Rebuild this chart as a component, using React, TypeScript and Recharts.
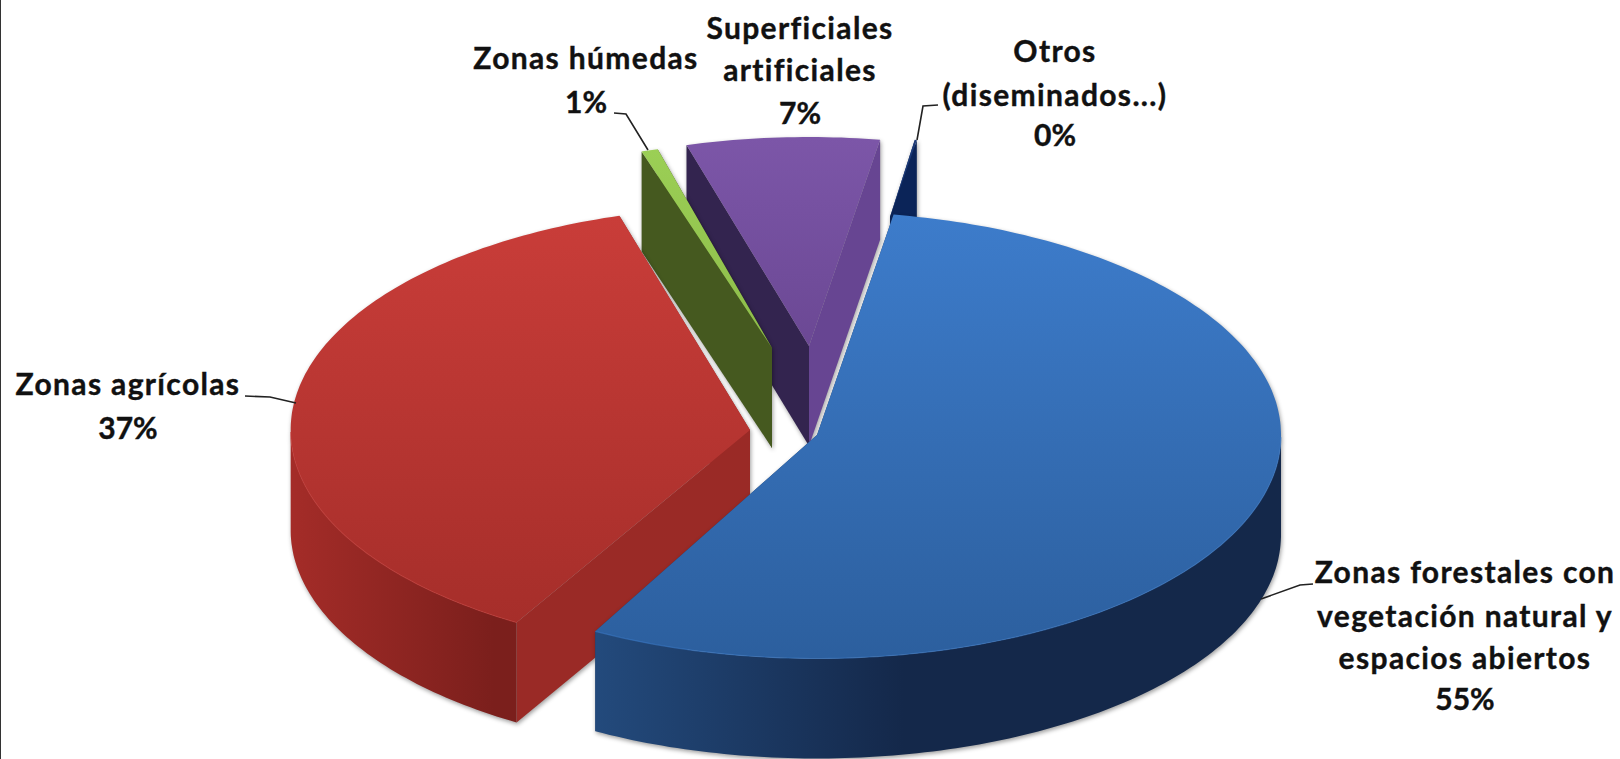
import React from "react";
import { PieChart, Pie } from "recharts";

const categories = ["Otros", "Superficiales", "Húmedas", "Agrícolas", "Forestales"];
const values = [0.2, 7, 0.6, 37, 55.4];
const labelLines = [
  ["Otros", "(diseminados...)"],
  ["Superficiales", "artificiales"],
  ["Zonas húmedas"],
  ["Zonas agrícolas"],
  ["Zonas forestales con", "vegetación natural y", "espacios abiertos"],
];

const data = categories.map((name, i) => ({ name, value: values[i], lines: labelLines[i] }));

const SQUASH = 0.4816;
const DEPTH = 100;

type Look = {
  dx: number; dy: number; rot: number; sx: number; sy: number;
  top: [string, string]; wall: [string, string]; wallStop: number; startWall: string; endWall: string;
  textX: number; textY: number[]; leader: [number, number][];
};
const looks: Record<string, Look> = {
  Otros: { dx: 73, dy: -218, rot: 0, sx: 0.35, sy: 0.35, top: ["#1c3a78", "#1c3a78"], wall: ["#0b2458", "#0b2458"], wallStop: 1, startWall: "#0b2458", endWall: "#0b2458",
    textX: 1055, textY: [50, 94, 134], leader: [[938, 105], [923, 106], [917, 140]] },
  Superficiales: { dx: -8, dy: -89, rot: -0.4, sx: 0.96, sy: 0.935, top: ["#7c56a8", "#6b4894"], wall: ["#33244f", "#33244f"], wallStop: 1, startWall: "#674592", endWall: "#33244f",
    textX: 800, textY: [27, 69, 112], leader: [] },
  "Húmedas": { dx: -45, dy: -87, rot: -1.5, sx: 0.96, sy: 0.92, top: ["#9bcf55", "#8dbb4a"], wall: ["#45591f", "#45591f"], wallStop: 1, startWall: "#45591f", endWall: "#45591f",
    textX: 586, textY: [57, 101], leader: [[614, 113], [626, 114], [648, 150]] },
  "Agrícolas": { dx: -67, dy: -5, rot: -2, sx: 0.99, sy: 1, top: ["#c93d39", "#a62e2a"], wall: ["#a42c28", "#7b1f1c"], wallStop: 0.9, startWall: "#9a2a26", endWall: "#9a2a26",
    textX: 128, textY: [383, 427], leader: [[245, 396], [270, 397], [296, 403]] },
  Forestales: { dx: 0, dy: 0, rot: 0, sx: 1, sy: 1, top: ["#3d7ccb", "#2c5f9e"], wall: ["#234a7c", "#14284a"], wallStop: 0.45, startWall: "#1d3c66", endWall: "#1d3c66",
    textX: 1465, textY: [571, 615, 657, 698], leader: [[1313, 584], [1300, 585], [1261, 599]] },
};

function Slice3D(props: any) {
  const { cx, cy, outerRadius, startAngle, endAngle, name } = props;
  const lk = looks[name];
  const x = cx + lk.dx;
  const y = cy + lk.dy;
  const s = Math.min(startAngle, endAngle) + lk.rot;
  const e = Math.max(startAngle, endAngle) + lk.rot;
  const pt = (deg: number, down = 0): [number, number] => {
    const a = (deg * Math.PI) / 180;
    return [x + outerRadius * lk.sx * Math.cos(a), y - outerRadius * lk.sy * SQUASH * Math.sin(a) + down];
  };
  const line = (pts: [number, number][]) => "M" + pts.map((p) => `${p[0].toFixed(1)},${p[1].toFixed(1)}`).join("L");
  const poly = (pts: [number, number][]) => line(pts) + "Z";
  const arc: number[] = [];
  for (let a = s; a < e; a += 1) arc.push(a);
  arc.push(e);
  const topPts = arc.map((a) => pt(a));
  const front = arc.filter((a) => Math.sin((a * Math.PI) / 180) <= 0.001);
  const hasFront = front.length > 1;
  const id = "g" + categories.indexOf(name);
  const apex: [number, number] = [x, y];
  const apexD: [number, number] = [x, y + DEPTH];
  return (
    <g style={{ filter: "drop-shadow(1px 2px 2px rgba(0,0,0,0.38))" }}>
      <defs>
        <linearGradient id={id + "t"} x1="0" y1="0" x2="0" y2="1">
          <stop offset="0" stopColor={lk.top[0]} />
          <stop offset="1" stopColor={lk.top[1]} />
        </linearGradient>
        <linearGradient id={id + "w"} x1="0" y1="0" x2="1" y2="0">
          <stop offset="0" stopColor={lk.wall[0]} />
          <stop offset={lk.wallStop} stopColor={lk.wall[1]} />
          <stop offset="1" stopColor={lk.wall[1]} />
        </linearGradient>
      </defs>
      <path d={poly([apex, pt(s), pt(s, DEPTH), apexD])} fill={lk.startWall} />
      <path d={poly([apex, pt(e), pt(e, DEPTH), apexD])} fill={lk.endWall} />
      {hasFront && (
        <path d={poly([...front.map((a) => pt(a)), ...front.slice().reverse().map((a) => pt(a, DEPTH))])} fill={`url(#${id}w)`} />
      )}
      <path d={poly([apex, ...topPts])} fill={`url(#${id}t)`} />
      {hasFront && <path d={line(front.map((a) => pt(a)))} fill="none" stroke={lk.top[0]} strokeOpacity={0.55} strokeWidth={1.2} />}
    </g>
  );
}

function SliceLabel(props: any) {
  const { name, percent, payload } = props;
  const lk = looks[name];
  const words: string[] = payload?.lines ?? props.lines;
  const lines: string[] = [...words, `${Math.round(percent * 100)}%`];
  return (
    <g>
      {lk.leader.length > 0 && (
        <polyline points={lk.leader.map((p) => p.join(",")).join(" ")} fill="none" stroke="#222" strokeWidth={1.6} />
      )}
      {lines.map((t, i) => (
        <text key={i} x={lk.textX} y={lk.textY[i]} textAnchor="middle" dominantBaseline="central"
          fontFamily="Lato, sans-serif" fontWeight={700} fontSize={30} fill="#111"
          stroke="#111" strokeWidth={0.4}
          letterSpacing={i < words.length ? 1.35 : 0}>
          {t}
        </text>
      ))}
    </g>
  );
}

export default function App() {
  return (
    <div style={{ position: "absolute", left: 0, top: 0, width: 1620, height: 759, background: "#fff", overflow: "hidden" }}>
      <div style={{ position: "absolute", left: 0, top: 0, width: 1, height: 759, background: "#333" }} />
      <PieChart width={1620} height={759} margin={{ top: 0, right: 0, bottom: 0, left: 0 }}>
        <Pie
          data={data}
          dataKey="value"
          nameKey="name"
          cx={817}
          cy={435}
          innerRadius={0}
          outerRadius={464}
          startAngle={80.5}
          endAngle={440.5}
          stroke="none"
          isAnimationActive={false}
          shape={Slice3D}
          label={SliceLabel}
          labelLine={false}
        />
      </PieChart>
    </div>
  );
}
